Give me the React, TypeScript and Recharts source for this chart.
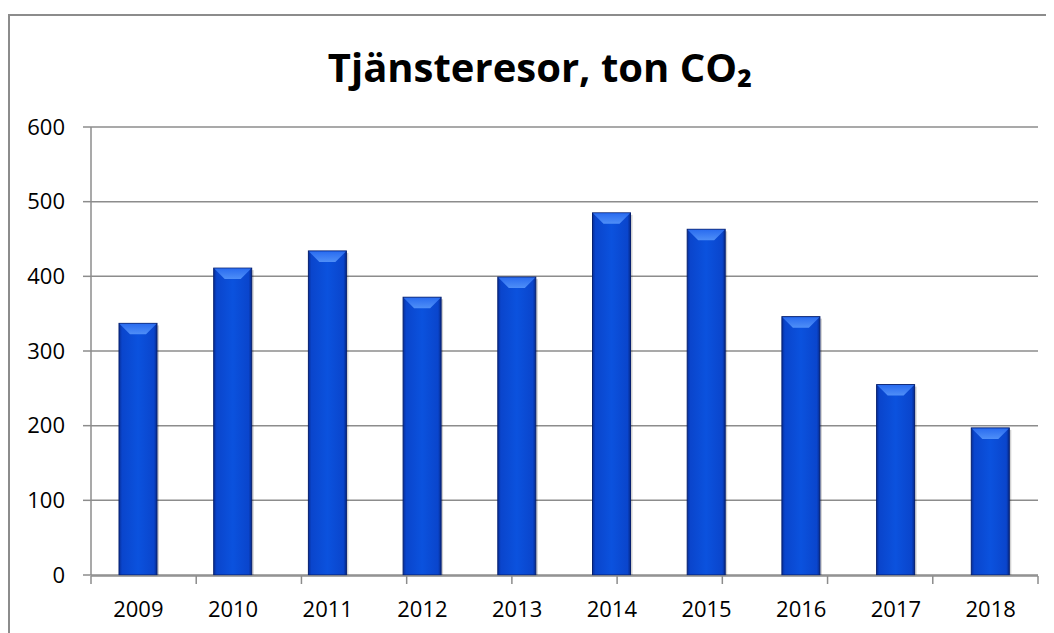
import { BarChart, Bar, XAxis, YAxis, CartesianGrid } from "recharts";

const years = ["2009", "2010", "2011", "2012", "2013", "2014", "2015", "2016", "2017", "2018"];
const tonCO2 = [337, 411, 434, 372, 399, 485, 463, 346, 255, 197];
const yTicks = [0, 100, 200, 300, 400, 500, 600];
const boundaryTicks = [0, 1, 2, 3, 4, 5, 6, 7, 8, 9, 10];

const data = years.map((year, i) => ({ year, value: tonCO2[i] }));

const GRAY = "#8c8c8c";
const FONT = "'Open Sans', 'Noto Sans', sans-serif";

const BarShape = (props: any) => {
  const { x, y, width, height, index } = props;
  if (!height || height <= 0) return null;
  const b = Math.min(11, height / 2);
  const id = `bar-${index}`;
  return (
    <g>
      <defs>
        <linearGradient id={`${id}-body`} x1="0" y1="0" x2="1" y2="0">
          <stop offset="0%" stopColor="#082f9a" />
          <stop offset="8%" stopColor="#0a45cc" />
          <stop offset="50%" stopColor="#0b52de" />
          <stop offset="92%" stopColor="#0a45cc" />
          <stop offset="100%" stopColor="#062a8c" />
        </linearGradient>
        <linearGradient id={`${id}-top`} x1="0" y1="0" x2="0" y2="1">
          <stop offset="0%" stopColor="#2a6cf0" />
          <stop offset="100%" stopColor="#4f8ff7" />
        </linearGradient>
      </defs>
      <rect x={x + 2} y={y + 2} width={width} height={height - 2} fill="rgba(0,0,0,0.18)" />
      <rect x={x} y={y} width={width} height={height} fill={`url(#${id}-body)`} stroke="#062070" strokeWidth={1} />
      <polygon
        points={`${x + 0.5},${y + 0.5} ${x + width - 0.5},${y + 0.5} ${x + width - b},${y + b} ${x + b},${y + b}`}
        fill={`url(#${id}-top)`}
      />
    </g>
  );
};

export default function App() {
  return (
    <div
      style={{
        marginTop: 6,
        width: 1040,
        height: 630,
        border: `2px solid ${GRAY}`,
        borderBottom: "none",
        boxSizing: "border-box",
        position: "relative",
        background: "#fff",
      }}
    >
      <div
        style={{
          position: "absolute",
          top: 31,
          left: 530,
          transform: "translateX(-50%)",
          whiteSpace: "nowrap",
          fontFamily: FONT,
          fontWeight: 700,
          fontSize: 40,
          lineHeight: 1,
          color: "#000",
        }}
      >
        Tjänsteresor, ton CO₂
      </div>
      <BarChart
        width={1036}
        height={620}
        data={data}
        margin={{ top: 111, right: 8, left: 0, bottom: 59 }}
      >
        <CartesianGrid vertical={false} stroke={GRAY} strokeWidth={1.5} />
        <XAxis
          xAxisId="b"
          type="number"
          domain={[0, 10]}
          ticks={boundaryTicks}
          interval={0}
          height={1}
          axisLine={{ stroke: GRAY, strokeWidth: 1.5 }}
          tickLine={{ stroke: GRAY, strokeWidth: 1.5 }}
          tickSize={8}
          tickFormatter={() => ""}
        />
        <XAxis
          dataKey="year"
          height={1}
          axisLine={false}
          tickLine={false}
          tickSize={8}
          tickMargin={18}
          interval={0}
          tick={{ fill: "#000", fontSize: 22, fontFamily: FONT }}
        />
        <YAxis
          width={81}
          domain={[0, 600]}
          ticks={yTicks}
          interval={0}
          axisLine={{ stroke: GRAY, strokeWidth: 1.5 }}
          tickLine={{ stroke: GRAY, strokeWidth: 1.5 }}
          tickSize={8}
          tickMargin={18}
          tick={{ fill: "#000", fontSize: 22, fontFamily: FONT }}
        />
        <Bar dataKey="value" barSize={38} shape={<BarShape />} isAnimationActive={false} />
      </BarChart>
    </div>
  );
}
